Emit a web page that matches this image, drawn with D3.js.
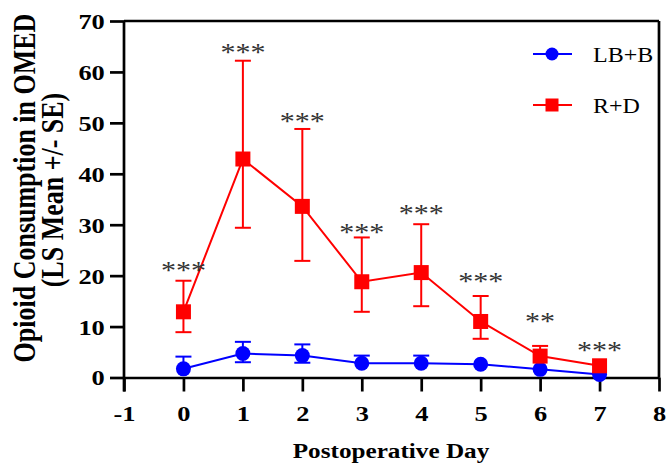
<!DOCTYPE html>
<html>
<head>
<meta charset="utf-8">
<script src="https://cdn.jsdelivr.net/npm/d3@7"></script>
<style>
  body { margin: 0; background: #fff; }
  svg { display: block; }
</style>
</head>
<body>
<script>
// values
const days = [0, 1, 2, 3, 4, 5, 6, 7];

const lbbMean = [1.7, 4.7, 4.3, 2.8, 2.8, 2.6, 1.6, 0.6];
const lbbHigh = [4.1, 7.0, 6.5, 4.3, 4.3, 2.6, 1.6, 0.6];
const lbbLow  = [1.7, 3.0, 2.9, 2.8, 2.8, 2.6, 1.6, 0.6];

const rdMean = [12.9, 42.9, 33.6, 18.8, 20.6, 11.0, 4.2, 2.3];
const rdHigh = [19.0, 62.2, 48.8, 27.5, 30.1, 16.0, 6.2, 2.3];
const rdLow  = [8.9, 29.4, 22.9, 12.9, 14.0, 7.6, 4.2, 2.3];

const starText = ['***', '***', '***', '***', '***', '***', '**', '***'];
const starY    = [21.9, 64.7, 51.2, 29.4, 33.1, 19.7, 11.9, 6.2];

const xTicks = [-1, 0, 1, 2, 3, 4, 5, 6, 7, 8];
const yTicks = [0, 10, 20, 30, 40, 50, 60, 70];

const W = 667, H = 463;
const SERIF = '"Liberation Serif", "Times New Roman", serif';
const STRETCH = 1.2; // the picture is a little wider than tall

const svg = d3.select('body').append('svg')
    .attr('width', W)
    .attr('height', H);

const x = d3.scaleLinear().domain([-1, 8]).range([124, 659]);
const y = d3.scaleLinear().domain([0, 70]).range([377.5, 21]);

// frame: top and right lines
svg.append('line')
    .attr('x1', x(-1)).attr('x2', x(8))
    .attr('y1', y(70)).attr('y2', y(70))
    .attr('stroke', '#000').attr('stroke-width', 2.7);
svg.append('line')
    .attr('x1', x(8)).attr('x2', x(8))
    .attr('y1', y(70)).attr('y2', y(0))
    .attr('stroke', '#000').attr('stroke-width', 2.7);

// axes
const fmt = d => String(d);
const xAxis = svg.append('g')
    .attr('transform', `translate(0, ${y(0)})`)
    .call(d3.axisBottom(x).tickValues(xTicks).tickFormat(fmt).tickSize(14).tickSizeOuter(0));
const yAxis = svg.append('g')
    .attr('transform', `translate(${x(-1)}, 0)`)
    .call(d3.axisLeft(y).tickValues(yTicks).tickFormat(fmt).tickSize(14).tickSizeOuter(0));

[xAxis, yAxis].forEach(ax => {
    ax.select('.domain').attr('stroke', '#000').attr('stroke-width', 2.7);
    ax.selectAll('.tick line').attr('stroke', '#000').attr('stroke-width', 2.7);
    ax.selectAll('.tick text')
        .attr('fill', '#000')
        .style('font-family', SERIF)
        .style('font-weight', 'bold')
        .style('font-size', '22px');
});
xAxis.selectAll('.tick text')
    .attr('y', 44)
    .attr('dy', 0)
    .attr('transform', `scale(${STRETCH},1)`);
yAxis.selectAll('.tick text')
    .attr('x', -16)
    .attr('dy', '0.34em')
    .attr('transform', `scale(${STRETCH},1)`);
// the -1 tick sits under the y axis line
yAxis.select('.domain').attr('d', `M0,${y(70)}V${y(0) + 14}`);

// axis titles
svg.append('text')
    .attr('transform', `translate(391, 458) scale(${STRETCH},1)`)
    .attr('text-anchor', 'middle')
    .style('font-family', SERIF)
    .style('font-weight', 'bold')
    .style('font-size', '21px')
    .text('Postoperative Day');

svg.append('text')
    .attr('text-anchor', 'middle')
    .attr('transform', `translate(35, 188) scale(${STRETCH},1) rotate(-90)`)
    .style('font-family', SERIF)
    .style('font-weight', 'bold')
    .style('font-size', '26px')
    .text('Opioid Consumption in OMED');
svg.append('text')
    .attr('text-anchor', 'middle')
    .attr('transform', `translate(63, 190) scale(${STRETCH},1) rotate(-90)`)
    .style('font-family', SERIF)
    .style('font-weight', 'bold')
    .style('font-size', '26px')
    .text('(LS Mean +/- SE)');

// series
const series = [
    { name: 'LB+B', color: '#0000ff', mean: lbbMean, high: lbbHigh, low: lbbLow, shape: 'circle' },
    { name: 'R+D', color: '#ff0000', mean: rdMean, high: rdHigh, low: rdLow, shape: 'square' }
];

const capHalf = 8;

series.forEach(s => {
    const g = svg.append('g');
    const pts = days.map((d, i) => ({ d, m: s.mean[i], hi: s.high[i], lo: s.low[i] }));

    // error bars, only where they stick out of the marker
    pts.forEach(p => {
        [p.hi, p.lo].forEach(v => {
            if (v === p.m) return;
            g.append('line')
                .attr('x1', x(p.d)).attr('x2', x(p.d))
                .attr('y1', y(p.m)).attr('y2', y(v))
                .attr('stroke', s.color).attr('stroke-width', 2);
            g.append('line')
                .attr('x1', x(p.d) - capHalf).attr('x2', x(p.d) + capHalf)
                .attr('y1', y(v)).attr('y2', y(v))
                .attr('stroke', s.color).attr('stroke-width', 2);
        });
    });

    g.append('path')
        .datum(pts)
        .attr('fill', 'none')
        .attr('stroke', s.color)
        .attr('stroke-width', 2)
        .attr('d', d3.line().x(p => x(p.d)).y(p => y(p.m)));

    if (s.shape === 'circle') {
        g.selectAll('circle')
            .data(pts)
            .join('circle')
            .attr('cx', p => x(p.d))
            .attr('cy', p => y(p.m))
            .attr('r', 7.5)
            .attr('fill', s.color);
    } else {
        g.selectAll('rect')
            .data(pts)
            .join('rect')
            .attr('x', p => x(p.d) - 7.5)
            .attr('y', p => y(p.m) - 7.5)
            .attr('width', 15)
            .attr('height', 15)
            .attr('fill', s.color);
    }
});

// significance stars
svg.append('g')
    .selectAll('text')
    .data(days)
    .join('text')
    .attr('transform', (d, i) => `translate(${x(d)}, ${y(starY[i]) + 13}) scale(${STRETCH},1)`)
    .attr('text-anchor', 'middle')
    .attr('fill', '#333')
    .style('font-family', SERIF)
    .style('font-size', '25px')
    .text((d, i) => starText[i]);

// legend
const legend = svg.append('g');
series.forEach((s, i) => {
    const ly = 54 + i * 51;
    legend.append('line')
        .attr('x1', 533).attr('x2', 572)
        .attr('y1', ly).attr('y2', ly)
        .attr('stroke', s.color).attr('stroke-width', 2);
    if (s.shape === 'circle') {
        legend.append('circle')
            .attr('cx', 552).attr('cy', ly).attr('r', 6.5)
            .attr('fill', s.color);
    } else {
        legend.append('rect')
            .attr('x', 552 - 6.5).attr('y', ly - 6.5)
            .attr('width', 13).attr('height', 13)
            .attr('fill', s.color);
    }
    legend.append('text')
        .attr('transform', `translate(593, ${ly + 7.5}) scale(${STRETCH},1)`)
        .style('font-family', SERIF)
        .style('font-size', '20px')
        .attr('fill', '#000')
        .text(s.name);
});
</script>
</body>
</html>
